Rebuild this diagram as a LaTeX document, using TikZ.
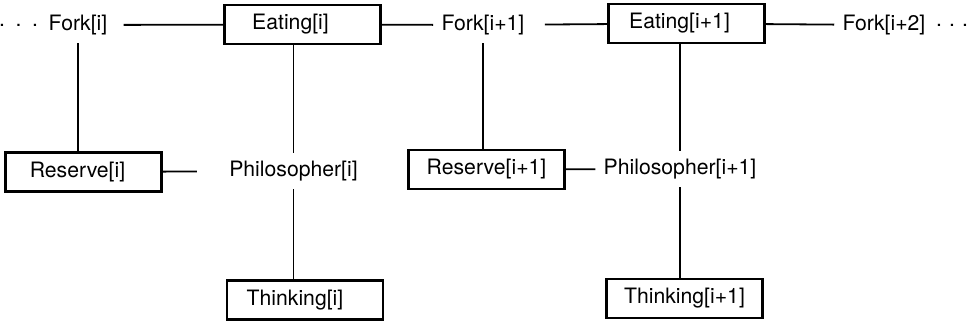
\documentclass[tikz,border=0pt]{standalone}
\usepackage{fontspec}
\setmainfont{TeX Gyre Heros}
\usetikzlibrary{positioning}

\begin{document}
\begin{tikzpicture}[x=0.5pt,y=-0.5pt,
		every node/.style={font=\fontsize{10.6}{12}\selectfont},
		state/.style={draw,line width=1.1pt,minimum width=78pt,minimum height=19.5pt,inner sep=0pt},
		lean/.style={execute at end node={\hspace*{#1}}},
		proc/.style={inner sep=4pt},
		link/.style={line width=0.9pt}]
		\useasboundingbox (0,0) rectangle (972,324);
		% top row: forks and eating states
		\node[proc,label={[inner sep=1pt]left:{.\,\,\,.\,\,\,.}}] (fork1) at (78,25) {Fork[i]};
		\node[state,lean=12pt] (eat1) at (302.5,24.5) {Eating[i]};
		\node[proc] (fork2) at (483,25) {Fork[i+1]};
		\node[state,lean=7pt] (eat2) at (686.5,23.5) {Eating[i+1]};
		\node[proc,label={[inner sep=1pt]right:{.\,\,.\,\,.}}] (fork3) at (884,25) {Fork[i+2]};
		% middle row
		\node[state,lean=6pt] (res1) at (83.5,172) {Reserve[i]};
		\node[proc] (phil1) at (293.5,171) {Philosopher[i]};
		\node[state] (res2) at (486.5,169.5) {Reserve[i+1]};
		\node[proc] (phil2) at (680,169) {Philosopher[i+1]};
		% bottom row
		\node[state,lean=10pt] (thk1) at (305,300) {Thinking[i]};
		\node[state] (thk2) at (684.5,298.5) {Thinking[i+1]};

		\draw[link,shorten <=4pt] (fork1) -- (eat1);
		\draw[link] (eat1) -- (fork2);
		\draw[link,shorten <=6pt] (fork2) -- (eat2);
		\draw[link] (eat2) -- (fork3);
		\draw[link] (fork1) -- (fork1 |- res1.north);
		\draw[link] (fork2) -- (fork2 |- res2.north);
		\draw[link] (phil1 |- eat1.south) -- (phil1);
		\draw[link] (phil2 |- eat2.south) -- (phil2);
		\draw[link,shorten >=12pt] (res1) -- (phil1);
		\draw[link] (res2) -- (phil2);
		\draw[link] (phil1) -- (phil1 |- thk1.north);
		\draw[link] (phil2) -- (phil2 |- thk2.north);
\end{tikzpicture}
\end{document}
